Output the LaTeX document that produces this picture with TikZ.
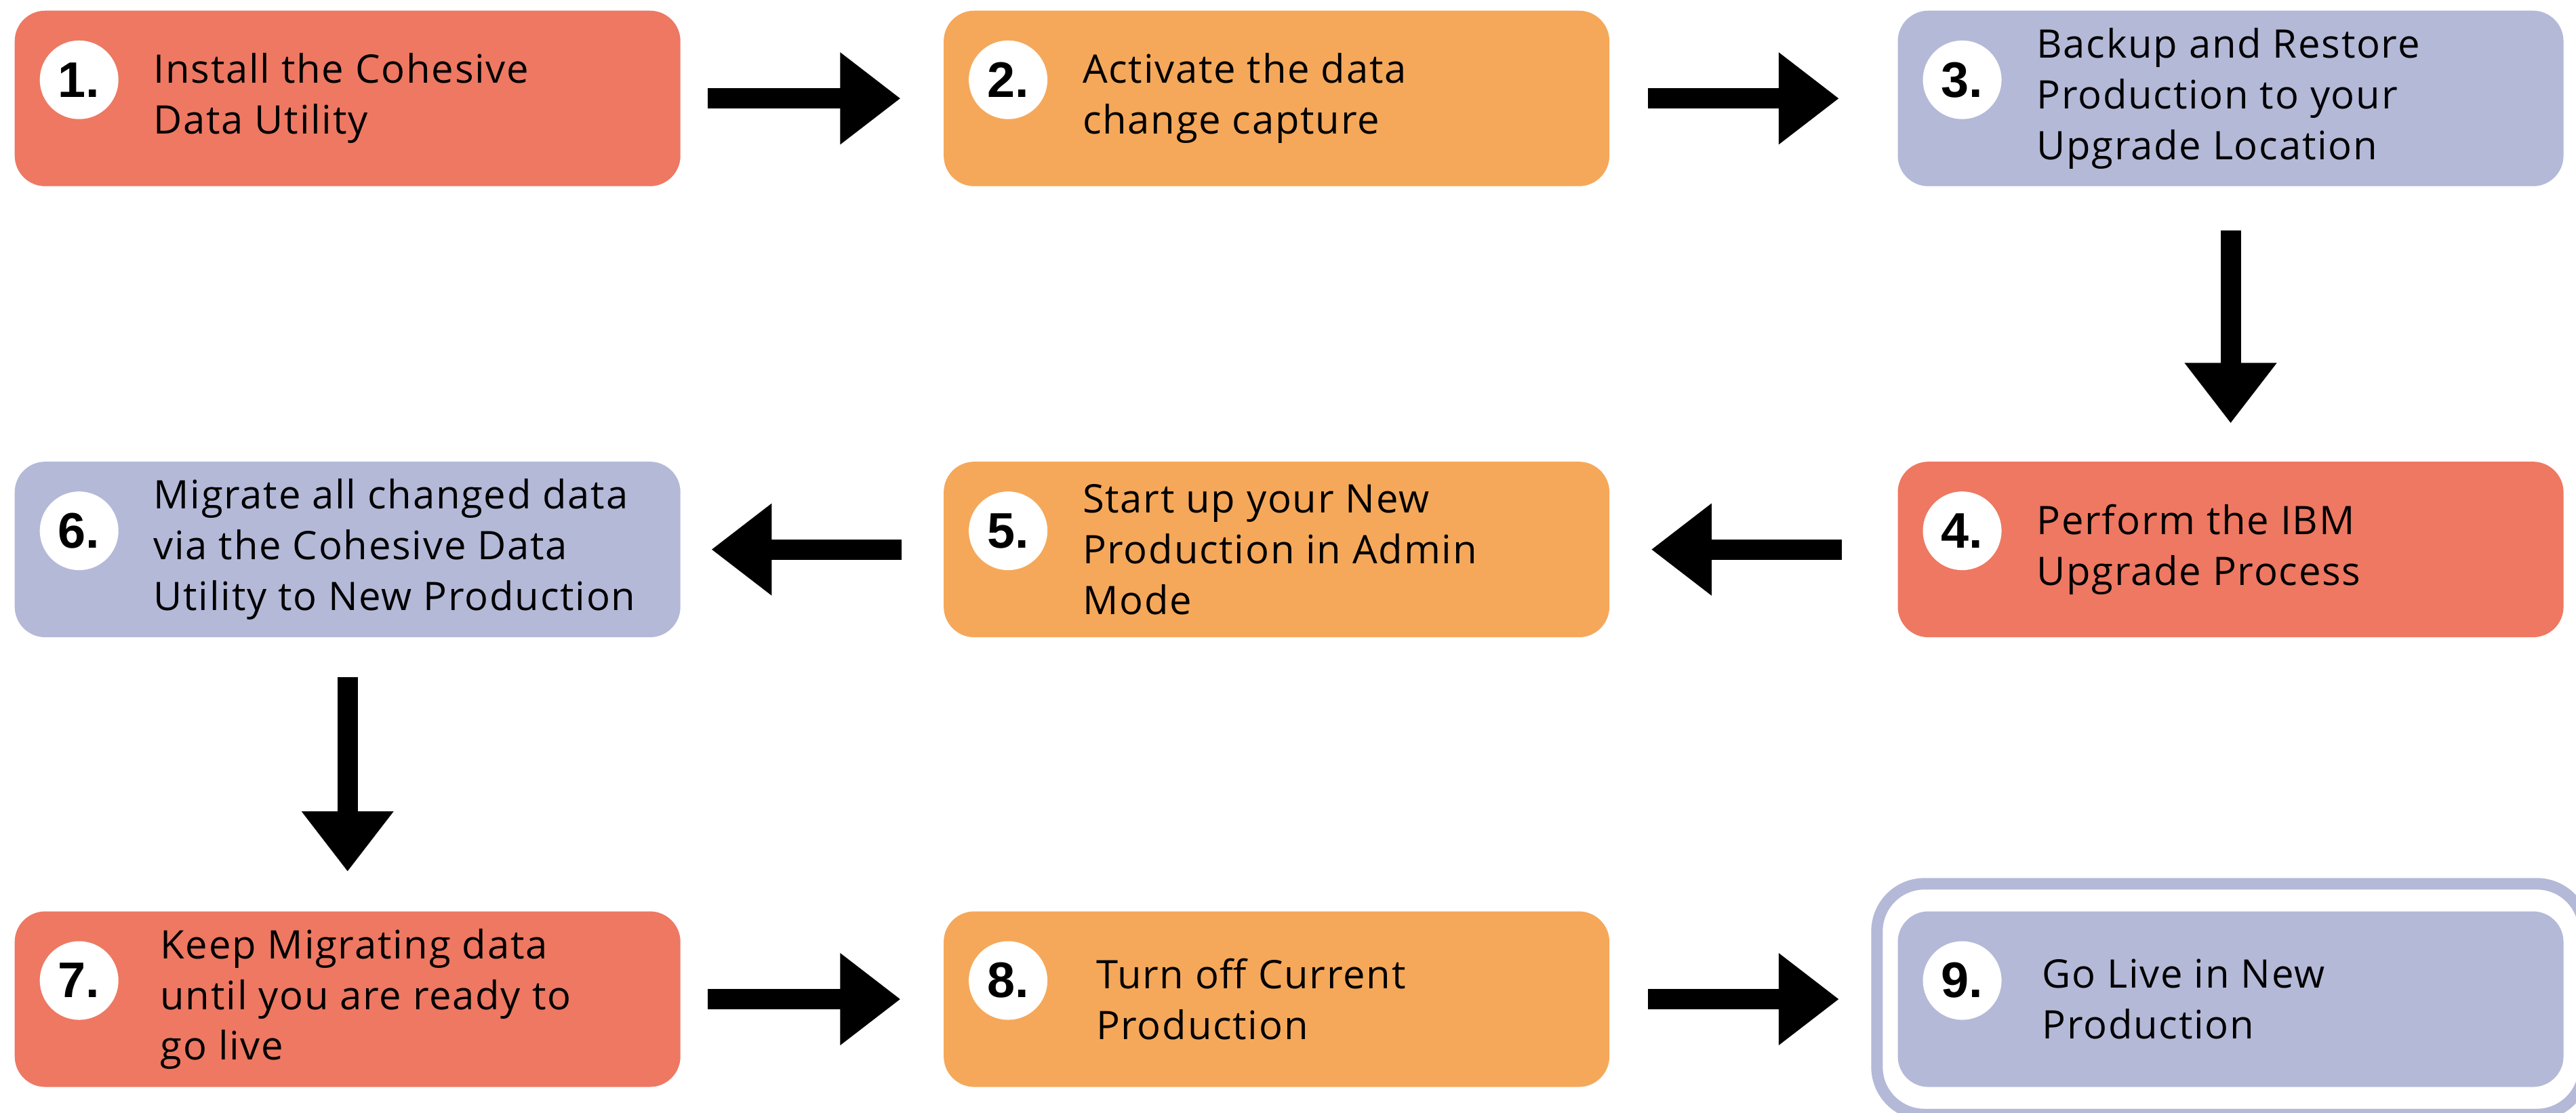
\documentclass[tikz,border=0pt]{standalone}
\usepackage{fontspec}
\setmainfont{Open Sans}[LetterSpace=3]
\newfontfamily\numfont{Liberation Sans}
\usetikzlibrary{positioning,fit,arrows.meta}
\definecolor{salmon}{HTML}{EE7862}
\definecolor{apricot}{HTML}{F5A85A}
\definecolor{lavender}{HTML}{B4B9D8}

\begin{document}
\begin{tikzpicture}[box/.style = {rounded corners=0.45cm, minimum width=9.82cm, minimum height=2.59cm, inner sep=0pt},
                    num/.style = {circle, fill=white, minimum size=1.16cm, inner sep=0pt, font=\numfont\bfseries\fontsize{21}{21}\selectfont},
                    txt/.style = {align=left, inner sep=0pt, font=\fontsize{16.5}{21.3}\selectfont},
                    flow/.style = {line width=0.3cm, -{Triangle[length=0.89cm, width=1.3cm]}}]
                    \useasboundingbox (0,0) rectangle (38,-16.41);

                    % first row
                    \node[box, fill=salmon, anchor=north west] (b1) at (0.21,-0.15) {};
                    \node[num] (n1) [right=0.37cm of b1.west, yshift=0.275cm] {1.};
                    \node[txt] (t1) [right=2.05cm of b1.west] {Install the Cohesive\\Data Utility};

                    \node[box, fill=apricot] (b2) [right=3.87cm of b1] {};
                    \node[num] (n2) [right=0.37cm of b2.west, yshift=0.275cm] {2.};
                    \node[txt] (t2) [right=2.05cm of b2.west] {Activate the data\\change capture};

                    \node[box, fill=lavender] (b3) [right=4.24cm of b2] {};
                    \node[num] (n3) [right=0.37cm of b3.west, yshift=0.275cm] {3.};
                    \node[txt] (t3) [right=2.05cm of b3.west] {Backup and Restore\\Production to your\\Upgrade Location};

                    % second row
                    \node[box, fill=salmon] (b4) [below=4.05cm of b3] {};
                    \node[num] (n4) [right=0.37cm of b4.west, yshift=0.275cm] {4.};
                    \node[txt] (t4) [right=2.05cm of b4.west] {Perform the IBM\\Upgrade Process};

                    \node[box, fill=apricot] (b5) [below=4.05cm of b2] {};
                    \node[num] (n5) [right=0.37cm of b5.west, yshift=0.275cm] {5.};
                    \node[txt] (t5) [right=2.05cm of b5.west] {Start up your New\\Production in Admin\\Mode};

                    \node[box, fill=lavender] (b6) [below=4.05cm of b1] {};
                    \node[num] (n6) [right=0.37cm of b6.west, yshift=0.275cm] {6.};
                    \node[txt] (t6) [right=2.05cm of b6.west] {Migrate all changed data\\via the Cohesive Data\\Utility to New Production};

                    % third row
                    \node[box, fill=salmon] (b7) [below=4.03cm of b6] {};
                    \node[num] (n7) [right=0.37cm of b7.west, yshift=0.275cm] {7.};
                    \node[txt] (t7) [right=2.15cm of b7.west] {Keep Migrating data\\until you are ready to\\go live};

                    \node[box, fill=apricot] (b8) [below=4.03cm of b5] {};
                    \node[num] (n8) [right=0.37cm of b8.west, yshift=0.275cm] {8.};
                    \node[txt] (t8) [right=2.25cm of b8.west] {Turn off Current\\Production};

                    \node[box, fill=lavender] (b9) [below=4.03cm of b4] {};
                    \node[num] (n9) [right=0.37cm of b9.west, yshift=0.275cm] {9.};
                    \node[txt] (t9) [right=2.13cm of b9.west] {Go Live in New\\Production};
                    \node[fit=(b9), draw=lavender, line width=0.17cm, rounded corners=0.7cm, inner xsep=0.3cm, inner ysep=0.4cm] (ring) {};

                    % arrows
                    \draw[flow, shorten <=0.4cm, shorten >=0.63cm] (b1) -- (b2);
                    \draw[flow, shorten <=0.56cm, shorten >=0.86cm] (b2) -- (b3);
                    \draw[flow, shorten <=0.65cm, shorten >=0.56cm] (b3) -- (b4);
                    \draw[flow, shorten <=0.82cm, shorten >=0.61cm] (b4) -- (b5);
                    \draw[flow, shorten <=0.61cm, shorten >=0.45cm] (b5) -- (b6);
                    \draw[flow, shorten <=0.58cm, shorten >=0.58cm] (b6) -- (b7);
                    \draw[flow, shorten <=0.4cm, shorten >=0.63cm] (b7) -- (b8);
                    \draw[flow, shorten <=0.56cm, shorten >=0.86cm] (b8) -- (b9);
                \end{tikzpicture}
\end{document}
